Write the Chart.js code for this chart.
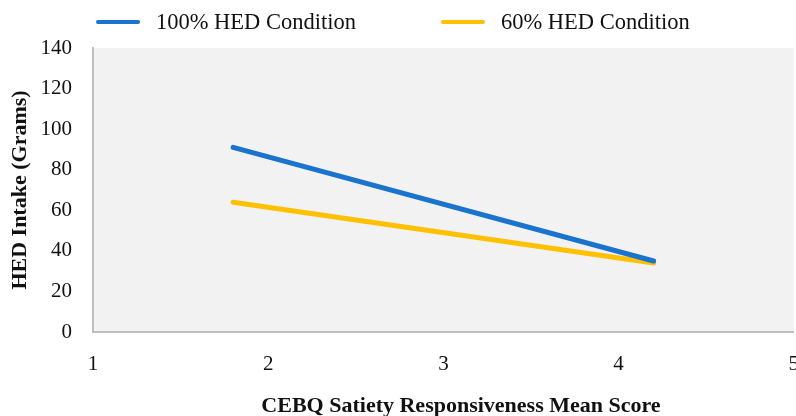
<!DOCTYPE html>
<html>
<head>
<meta charset="utf-8">
<script src="https://cdn.jsdelivr.net/npm/chart.js@4"></script>
<style>
  html, body { margin: 0; padding: 0; background: #fff; overflow: hidden; }
  #wrap { position: relative; width: 819px; height: 416px; }
  #legend { position: absolute; top: 9px; left: 0; width: 796px; font-family: "Liberation Serif", serif; font-size: 22.5px; line-height: 26px; color: #111; }
  .item { position: absolute; top: 0; white-space: nowrap; }
  .swatch { display: inline-block; width: 44px; height: 4px; border-radius: 2px; vertical-align: middle; margin-right: 16px; position: relative; top: -2px; }
  #xtitle { position: absolute; left: 461px; top: 392px; transform: translateX(-50%); white-space: nowrap; font-family: "Liberation Serif", serif; font-weight: bold; font-size: 22px; line-height: 26px; color: #111; }
</style>
</head>
<body>
<div id="wrap">
  <canvas id="chart" width="819" height="416"></canvas>
  <div id="legend"></div>
  <div id="xtitle">CEBQ Satiety Responsiveness Mean Score</div>
</div>
<script>
const xValues = [1.8, 4.2];
const hed100 = [91, 35];
const hed60 = [64, 34];
const seriesNames = ["100% HED Condition", "60% HED Condition"];
const colors = ["#1a73cc", "#ffc000"];
const yTicks = [0, 20, 40, 60, 80, 100, 120, 140];
const xTicks = [1, 2, 3, 4, 5];

const font = "'Liberation Serif', serif";

// legend as real text
const legendPos = [96, 441];
const legend = document.getElementById("legend");
seriesNames.forEach((name, i) => {
  legend.innerHTML += `<span class="item" style="left:${legendPos[i]}px"><span class="swatch" style="background:${colors[i]}"></span>${name}</span>`;
});

const plotBg = {
  id: "plotBg",
  beforeDraw(chart) {
    const { ctx, chartArea: a } = chart;
    ctx.save();
    ctx.fillStyle = "#f2f2f2";
    ctx.fillRect(a.left, a.top, a.right - a.left, a.bottom - a.top);
    ctx.restore();
  },
};

new Chart(document.getElementById("chart"), {
  type: "line",
  data: {
    datasets: [
      { label: seriesNames[0], data: xValues.map((x, i) => ({ x, y: hed100[i] })) },
      { label: seriesNames[1], data: xValues.map((x, i) => ({ x, y: hed60[i] })) },
    ].map((d, i) => ({
      ...d,
      borderColor: colors[i],
      backgroundColor: colors[i],
      borderWidth: 5,
      borderCapStyle: "round",
      pointRadius: 0,
      tension: 0,
    })),
  },
  options: {
    responsive: false,
    animation: false,
    layout: { padding: { top: 48, left: 7, right: 0, bottom: 0 } },
    plugins: { legend: { display: false }, tooltip: { enabled: false } },
    scales: {
      x: {
        type: "linear",
        min: 1,
        max: 5,
        afterBuildTicks: (s) => { s.ticks = xTicks.map((v) => ({ value: v })); },
        afterFit: (s) => { s.height = 84; },
        grid: { display: false, drawTicks: false },
        border: { display: true, color: "#bfbfbf", width: 2 },
        ticks: { color: "#111", font: { family: font, size: 21 }, padding: 20 },
      },
      y: {
        min: 0,
        max: 140,
        afterBuildTicks: (s) => { s.ticks = yTicks.map((v) => ({ value: v })); },
        afterFit: (s) => { s.width = 86; },
        grid: { display: false, drawTicks: false },
        border: { display: true, color: "#bfbfbf", width: 2 },
        ticks: { color: "#111", font: { family: font, size: 21 }, padding: 21 },
        title: {
          display: true,
          text: "HED Intake (Grams)",
          color: "#111",
          font: { family: font, size: 22, weight: "bold" },
          padding: { top: 0, bottom: 0 },
        },
      },
    },
  },
  plugins: [plotBg],
});
</script>
</body>
</html>
